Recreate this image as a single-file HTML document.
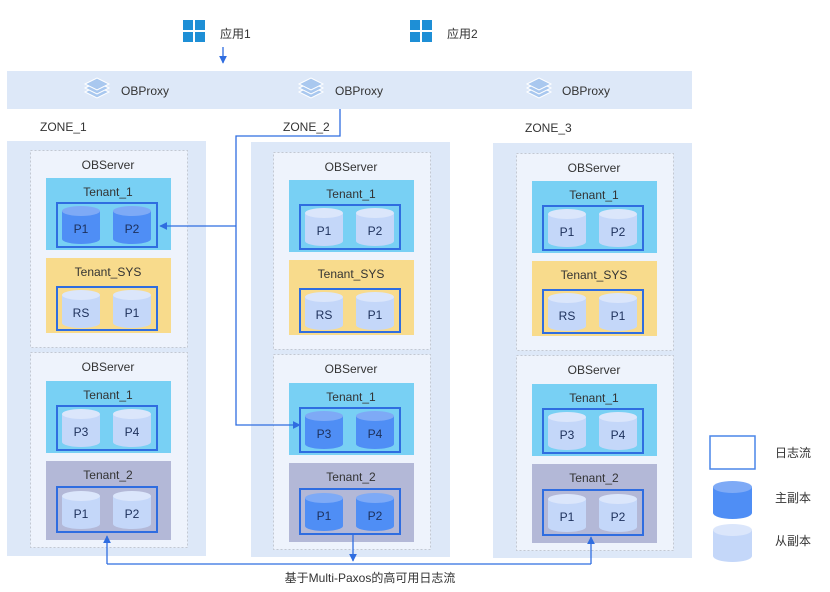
<!DOCTYPE html>
<html><head><meta charset="utf-8"><style>
html,body{margin:0;padding:0;background:#fff;width:830px;height:592px;overflow:hidden}
text{font-family:"Liberation Sans","Noto Sans CJK SC",sans-serif;fill:#333}
.t{font-size:12px;text-anchor:middle}
.c{font-size:12px;text-anchor:middle;fill:#1c2f5a}
</style></head><body>
<svg width="830" height="592" viewBox="0 0 830 592" xmlns="http://www.w3.org/2000/svg">
<defs>
<marker id="ar" viewBox="0 0 10 10" refX="9" refY="5" markerWidth="6" markerHeight="6" orient="auto"><path d="M0 0L10 5L0 10z" fill="#2f6de0"/></marker>
</defs>
<!-- apps -->
<g fill="#1e8fd6">
<rect x="183" y="20" width="10" height="10"/><rect x="195" y="20" width="10" height="10"/><rect x="183" y="32" width="10" height="10"/><rect x="195" y="32" width="10" height="10"/>
<rect x="410" y="20" width="10" height="10"/><rect x="422" y="20" width="10" height="10"/><rect x="410" y="32" width="10" height="10"/><rect x="422" y="32" width="10" height="10"/>
</g>
<text x="220" y="38" style="font-size:12px">应用1</text>
<text x="447" y="38" style="font-size:12px">应用2</text>
<line x1="223" y1="47" x2="223" y2="63" stroke="#2f6de0" stroke-width="1.3" marker-end="url(#ar)"/>
<!-- proxy band -->
<rect x="7" y="71" width="685" height="38" fill="#dde8f8"/>
<g fill="#a9c8ef" stroke="#fff" stroke-width="1">
<path d="M85 92l12-6 12 6-12 6z"/><path d="M85 88l12-6 12 6-12 6z"/><path d="M85 84l12-6 12 6-12 6z"/>
<path d="M299 92l12-6 12 6-12 6z"/><path d="M299 88l12-6 12 6-12 6z"/><path d="M299 84l12-6 12 6-12 6z"/>
<path d="M527 92l12-6 12 6-12 6z"/><path d="M527 88l12-6 12 6-12 6z"/><path d="M527 84l12-6 12 6-12 6z"/>
</g>
<text x="121" y="95" style="font-size:12px">OBProxy</text>
<text x="335" y="95" style="font-size:12px">OBProxy</text>
<text x="562" y="95" style="font-size:12px">OBProxy</text>
<!-- zones -->
<text x="40" y="131" style="font-size:12px">ZONE_1</text>
<text x="283" y="131" style="font-size:12px">ZONE_2</text>
<text x="525" y="132" style="font-size:12px">ZONE_3</text>
<rect x="7" y="141" width="199" height="415" fill="#dde8f8"/>
<rect x="251" y="142" width="199" height="415" fill="#dde8f8"/>
<rect x="493" y="143" width="199" height="415" fill="#dde8f8"/>

<!-- ZONE1 server1 -->
<g transform="translate(30,150)">
<rect x="0.5" y="0.5" width="157" height="197" fill="#eef3fc" stroke="#c3c8d2" stroke-dasharray="2,2"/>
<text class="t" x="78" y="19">OBServer</text>
<rect x="16" y="28" width="125" height="72" fill="#78d0f4"/><text class="t" x="78" y="46">Tenant_1</text>
<rect x="27" y="53" width="100" height="44" fill="none" stroke="#2f6de0" stroke-width="2"/>
<g transform="translate(32,56)"><path d="M0 5v28a19 5 0 0 0 38 0v-28z" fill="#4f8ef5"/><ellipse cx="19" cy="5" rx="19" ry="5" fill="#7eaaf6"/><text class="c" x="19" y="27">P1</text></g>
<g transform="translate(83,56)"><path d="M0 5v28a19 5 0 0 0 38 0v-28z" fill="#4f8ef5"/><ellipse cx="19" cy="5" rx="19" ry="5" fill="#7eaaf6"/><text class="c" x="19" y="27">P2</text></g>
<rect x="16" y="108" width="125" height="75" fill="#f8db8c"/><text class="t" x="78" y="126">Tenant_SYS</text>
<rect x="27" y="137" width="100" height="43" fill="none" stroke="#2f6de0" stroke-width="2"/>
<g transform="translate(32,140)"><path d="M0 5v28a19 5 0 0 0 38 0v-28z" fill="#c4d7f9"/><ellipse cx="19" cy="5" rx="19" ry="5" fill="#dbe6fb"/><text class="c" x="19" y="27">RS</text></g>
<g transform="translate(83,140)"><path d="M0 5v28a19 5 0 0 0 38 0v-28z" fill="#c4d7f9"/><ellipse cx="19" cy="5" rx="19" ry="5" fill="#dbe6fb"/><text class="c" x="19" y="27">P1</text></g>
</g>
<!-- ZONE1 server2 -->
<g transform="translate(30,352)">
<rect x="0.5" y="0.5" width="157" height="195" fill="#eef3fc" stroke="#c3c8d2" stroke-dasharray="2,2"/>
<text class="t" x="78" y="19">OBServer</text>
<rect x="16" y="29" width="125" height="72" fill="#78d0f4"/><text class="t" x="78" y="47">Tenant_1</text>
<rect x="27" y="54" width="100" height="44" fill="none" stroke="#2f6de0" stroke-width="2"/>
<g transform="translate(32,57)"><path d="M0 5v28a19 5 0 0 0 38 0v-28z" fill="#c4d7f9"/><ellipse cx="19" cy="5" rx="19" ry="5" fill="#dbe6fb"/><text class="c" x="19" y="27">P3</text></g>
<g transform="translate(83,57)"><path d="M0 5v28a19 5 0 0 0 38 0v-28z" fill="#c4d7f9"/><ellipse cx="19" cy="5" rx="19" ry="5" fill="#dbe6fb"/><text class="c" x="19" y="27">P4</text></g>
<rect x="16" y="109" width="125" height="79" fill="#b3b8d7"/><text class="t" x="78" y="127">Tenant_2</text>
<rect x="27" y="135" width="100" height="45" fill="none" stroke="#2f6de0" stroke-width="2"/>
<g transform="translate(32,139)"><path d="M0 5v28a19 5 0 0 0 38 0v-28z" fill="#c4d7f9"/><ellipse cx="19" cy="5" rx="19" ry="5" fill="#dbe6fb"/><text class="c" x="19" y="27">P1</text></g>
<g transform="translate(83,139)"><path d="M0 5v28a19 5 0 0 0 38 0v-28z" fill="#c4d7f9"/><ellipse cx="19" cy="5" rx="19" ry="5" fill="#dbe6fb"/><text class="c" x="19" y="27">P2</text></g>
</g>

<!-- ZONE2 server1 -->
<g transform="translate(273,152)">
<rect x="0.5" y="0.5" width="157" height="197" fill="#eef3fc" stroke="#c3c8d2" stroke-dasharray="2,2"/>
<text class="t" x="78" y="19">OBServer</text>
<rect x="16" y="28" width="125" height="72" fill="#78d0f4"/><text class="t" x="78" y="46">Tenant_1</text>
<rect x="27" y="53" width="100" height="44" fill="none" stroke="#2f6de0" stroke-width="2"/>
<g transform="translate(32,56)"><path d="M0 5v28a19 5 0 0 0 38 0v-28z" fill="#c4d7f9"/><ellipse cx="19" cy="5" rx="19" ry="5" fill="#dbe6fb"/><text class="c" x="19" y="27">P1</text></g>
<g transform="translate(83,56)"><path d="M0 5v28a19 5 0 0 0 38 0v-28z" fill="#c4d7f9"/><ellipse cx="19" cy="5" rx="19" ry="5" fill="#dbe6fb"/><text class="c" x="19" y="27">P2</text></g>
<rect x="16" y="108" width="125" height="75" fill="#f8db8c"/><text class="t" x="78" y="126">Tenant_SYS</text>
<rect x="27" y="137" width="100" height="43" fill="none" stroke="#2f6de0" stroke-width="2"/>
<g transform="translate(32,140)"><path d="M0 5v28a19 5 0 0 0 38 0v-28z" fill="#c4d7f9"/><ellipse cx="19" cy="5" rx="19" ry="5" fill="#dbe6fb"/><text class="c" x="19" y="27">RS</text></g>
<g transform="translate(83,140)"><path d="M0 5v28a19 5 0 0 0 38 0v-28z" fill="#c4d7f9"/><ellipse cx="19" cy="5" rx="19" ry="5" fill="#dbe6fb"/><text class="c" x="19" y="27">P1</text></g>
</g>
<!-- ZONE2 server2 -->
<g transform="translate(273,354)">
<rect x="0.5" y="0.5" width="157" height="195" fill="#eef3fc" stroke="#c3c8d2" stroke-dasharray="2,2"/>
<text class="t" x="78" y="19">OBServer</text>
<rect x="16" y="29" width="125" height="72" fill="#78d0f4"/><text class="t" x="78" y="47">Tenant_1</text>
<rect x="27" y="54" width="100" height="44" fill="none" stroke="#2f6de0" stroke-width="2"/>
<g transform="translate(32,57)"><path d="M0 5v28a19 5 0 0 0 38 0v-28z" fill="#4f8ef5"/><ellipse cx="19" cy="5" rx="19" ry="5" fill="#7eaaf6"/><text class="c" x="19" y="27">P3</text></g>
<g transform="translate(83,57)"><path d="M0 5v28a19 5 0 0 0 38 0v-28z" fill="#4f8ef5"/><ellipse cx="19" cy="5" rx="19" ry="5" fill="#7eaaf6"/><text class="c" x="19" y="27">P4</text></g>
<rect x="16" y="109" width="125" height="79" fill="#b3b8d7"/><text class="t" x="78" y="127">Tenant_2</text>
<rect x="27" y="135" width="100" height="45" fill="none" stroke="#2f6de0" stroke-width="2"/>
<g transform="translate(32,139)"><path d="M0 5v28a19 5 0 0 0 38 0v-28z" fill="#4f8ef5"/><ellipse cx="19" cy="5" rx="19" ry="5" fill="#7eaaf6"/><text class="c" x="19" y="27">P1</text></g>
<g transform="translate(83,139)"><path d="M0 5v28a19 5 0 0 0 38 0v-28z" fill="#4f8ef5"/><ellipse cx="19" cy="5" rx="19" ry="5" fill="#7eaaf6"/><text class="c" x="19" y="27">P2</text></g>
</g>

<!-- ZONE3 server1 -->
<g transform="translate(516,153)">
<rect x="0.5" y="0.5" width="157" height="197" fill="#eef3fc" stroke="#c3c8d2" stroke-dasharray="2,2"/>
<text class="t" x="78" y="19">OBServer</text>
<rect x="16" y="28" width="125" height="72" fill="#78d0f4"/><text class="t" x="78" y="46">Tenant_1</text>
<rect x="27" y="53" width="100" height="44" fill="none" stroke="#2f6de0" stroke-width="2"/>
<g transform="translate(32,56)"><path d="M0 5v28a19 5 0 0 0 38 0v-28z" fill="#c4d7f9"/><ellipse cx="19" cy="5" rx="19" ry="5" fill="#dbe6fb"/><text class="c" x="19" y="27">P1</text></g>
<g transform="translate(83,56)"><path d="M0 5v28a19 5 0 0 0 38 0v-28z" fill="#c4d7f9"/><ellipse cx="19" cy="5" rx="19" ry="5" fill="#dbe6fb"/><text class="c" x="19" y="27">P2</text></g>
<rect x="16" y="108" width="125" height="75" fill="#f8db8c"/><text class="t" x="78" y="126">Tenant_SYS</text>
<rect x="27" y="137" width="100" height="43" fill="none" stroke="#2f6de0" stroke-width="2"/>
<g transform="translate(32,140)"><path d="M0 5v28a19 5 0 0 0 38 0v-28z" fill="#c4d7f9"/><ellipse cx="19" cy="5" rx="19" ry="5" fill="#dbe6fb"/><text class="c" x="19" y="27">RS</text></g>
<g transform="translate(83,140)"><path d="M0 5v28a19 5 0 0 0 38 0v-28z" fill="#c4d7f9"/><ellipse cx="19" cy="5" rx="19" ry="5" fill="#dbe6fb"/><text class="c" x="19" y="27">P1</text></g>
</g>
<!-- ZONE3 server2 -->
<g transform="translate(516,355)">
<rect x="0.5" y="0.5" width="157" height="195" fill="#eef3fc" stroke="#c3c8d2" stroke-dasharray="2,2"/>
<text class="t" x="78" y="19">OBServer</text>
<rect x="16" y="29" width="125" height="72" fill="#78d0f4"/><text class="t" x="78" y="47">Tenant_1</text>
<rect x="27" y="54" width="100" height="44" fill="none" stroke="#2f6de0" stroke-width="2"/>
<g transform="translate(32,57)"><path d="M0 5v28a19 5 0 0 0 38 0v-28z" fill="#c4d7f9"/><ellipse cx="19" cy="5" rx="19" ry="5" fill="#dbe6fb"/><text class="c" x="19" y="27">P3</text></g>
<g transform="translate(83,57)"><path d="M0 5v28a19 5 0 0 0 38 0v-28z" fill="#c4d7f9"/><ellipse cx="19" cy="5" rx="19" ry="5" fill="#dbe6fb"/><text class="c" x="19" y="27">P4</text></g>
<rect x="16" y="109" width="125" height="79" fill="#b3b8d7"/><text class="t" x="78" y="127">Tenant_2</text>
<rect x="27" y="135" width="100" height="45" fill="none" stroke="#2f6de0" stroke-width="2"/>
<g transform="translate(32,139)"><path d="M0 5v28a19 5 0 0 0 38 0v-28z" fill="#c4d7f9"/><ellipse cx="19" cy="5" rx="19" ry="5" fill="#dbe6fb"/><text class="c" x="19" y="27">P1</text></g>
<g transform="translate(83,139)"><path d="M0 5v28a19 5 0 0 0 38 0v-28z" fill="#c4d7f9"/><ellipse cx="19" cy="5" rx="19" ry="5" fill="#dbe6fb"/><text class="c" x="19" y="27">P2</text></g>
</g>

<!-- connectors -->
<g stroke="#2f6de0" stroke-width="1.3" fill="none">
<path d="M340 109V136H236V425H300" marker-end="url(#ar)"/>
<path d="M236 226H160" marker-end="url(#ar)"/>
<path d="M353 534V561" marker-end="url(#ar)"/>
<path d="M107 564H591"/>
<path d="M107 564V536" marker-end="url(#ar)"/>
<path d="M591 564V537" marker-end="url(#ar)"/>
</g>
<text x="370" y="582" style="font-size:12px;text-anchor:middle">基于Multi-Paxos的高可用日志流</text>

<!-- legend -->
<rect x="710" y="436" width="45" height="33" fill="#fff" stroke="#4a86e8" stroke-width="1.5"/>
<text x="775" y="457" style="font-size:12px">日志流</text>
<g transform="translate(713,481)"><path d="M0 6v26a19.5 6 0 0 0 39 0v-26z" fill="#4f8ef5"/><ellipse cx="19.5" cy="6" rx="19.5" ry="6" fill="#7eaaf6"/></g>
<text x="775" y="502" style="font-size:12px">主副本</text>
<g transform="translate(713,524)"><path d="M0 6v26a19.5 6 0 0 0 39 0v-26z" fill="#c4d7f9"/><ellipse cx="19.5" cy="6" rx="19.5" ry="6" fill="#dbe6fb"/></g>
<text x="775" y="545" style="font-size:12px">从副本</text>
</svg>
</body></html>
